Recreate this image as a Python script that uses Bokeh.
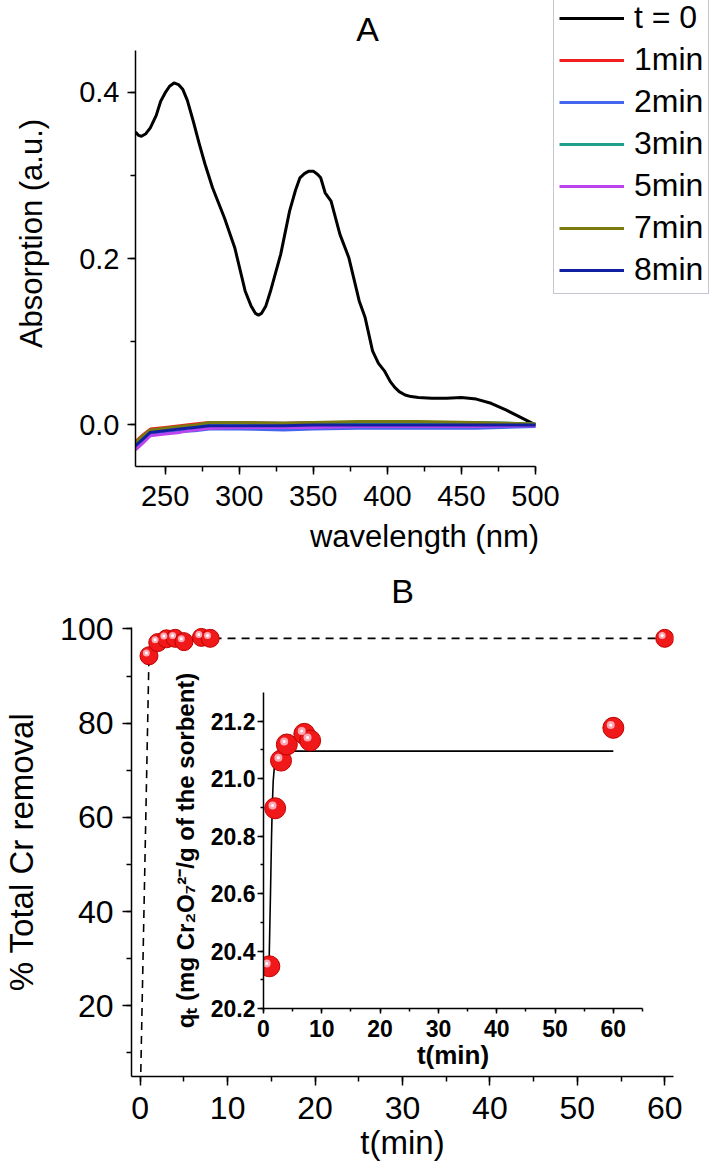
from bokeh.plotting import figure
from bokeh.models import (Legend, LegendItem, SingleIntervalTicker, Range1d,
                          PrintfTickFormatter, ColumnDataSource, Label)
from bokeh.transform import dodge
from bokeh.embed import file_html
from bokeh.resources import INLINE

FONT = "Liberation Sans"

# ---------------- Panel A data ----------------
wl_t0 = [230, 232, 234, 237, 240, 244, 247, 250, 253, 256, 259, 262, 265, 269, 273, 277,
         282, 290, 297, 304, 308, 311, 313, 315, 318, 321, 328, 334, 338, 341, 344, 347,
         350, 353, 355, 358, 362, 368, 374, 381, 385, 390, 394, 398, 402, 405, 408, 412,
         416, 421, 430, 440, 450, 460, 470, 480, 490, 500]
abs_t0 = [0.352, 0.348, 0.347, 0.350, 0.357, 0.372, 0.389, 0.399, 0.407, 0.411, 0.409,
          0.403, 0.390, 0.365, 0.338, 0.313, 0.285, 0.249, 0.213, 0.161, 0.143, 0.134,
          0.132, 0.134, 0.143, 0.160, 0.205, 0.257, 0.282, 0.297, 0.302, 0.305, 0.305,
          0.301, 0.297, 0.279, 0.269, 0.229, 0.201, 0.149, 0.129, 0.089, 0.074, 0.065,
          0.052, 0.045, 0.040, 0.036, 0.034, 0.033, 0.032, 0.032, 0.033, 0.031, 0.026,
          0.018, 0.009, 0.000]

wl_grid = [230, 235, 240, 250, 260, 270, 280, 300, 330, 350, 380, 420, 460, 500]
abs_1min = [-0.020, -0.012, -0.005, -0.003, -0.001, 0.001, 0.003, 0.003, 0.002, 0.003, 0.003, 0.002, 0.002, 0.000]
abs_2min = [-0.028, -0.020, -0.012, -0.010, -0.008, -0.007, -0.005, -0.005, -0.006, -0.005, -0.004, -0.004, -0.004, -0.002]
abs_3min = [-0.022, -0.014, -0.007, -0.005, -0.003, -0.001, 0.002, 0.002, 0.002, 0.002, 0.003, 0.003, 0.003, 0.001]
abs_5min = [-0.030, -0.022, -0.013, -0.011, -0.009, -0.006, -0.004, -0.003, -0.003, -0.003, -0.002, -0.002, -0.002, -0.001]
abs_7min = [-0.021, -0.013, -0.006, -0.004, -0.002, 0.000, 0.003, 0.003, 0.002, 0.003, 0.004, 0.004, 0.003, 0.001]
abs_8min = [-0.025, -0.017, -0.009, -0.007, -0.005, -0.003, -0.001, -0.001, -0.001, 0.000, 0.000, 0.000, 0.000, 0.000]

series_names = ["t = 0", "1min", "2min", "3min", "5min", "7min", "8min"]
series_colors = ["#000000", "#f02020", "#4466ee", "#20a08a", "#bb44ee", "#7a7a10", "#1020a0"]

# ---------------- Panel B data ----------------
t_main = [1, 2, 3, 4, 5, 7, 8, 60]
removal_main = [94.3, 97.1, 97.9, 98.0, 97.3, 98.2, 98.0, 98.0]
t_line = [0] + t_main
removal_line = [0] + removal_main

t_inset = [1, 2, 3, 4, 7, 8, 60]
q_inset = [20.347, 20.897, 21.063, 21.119, 21.156, 21.133, 21.177]
t_fit = [0.95, 1.0, 1.2, 1.38, 1.5, 1.66, 1.9, 2.2, 2.9, 4.0, 60]
q_fit = [20.33, 20.40, 20.60, 20.80, 20.90, 20.99, 21.05, 21.08, 21.094, 21.096, 21.096]


def style_axis(ax, tick_px, label_px, bold=False, tick_out=8, minor_out=5,
               tick_standoff=6, label_standoff=4, lw=1.5):
    ax.axis_line_color = "black"
    ax.axis_line_width = lw
    ax.major_tick_line_color = "black"
    ax.minor_tick_line_color = "black"
    ax.major_tick_line_width = lw
    ax.minor_tick_line_width = lw
    ax.major_tick_in = 0
    ax.major_tick_out = tick_out
    ax.minor_tick_in = 0
    ax.minor_tick_out = minor_out
    ax.major_label_text_font = FONT
    ax.major_label_text_font_size = f"{tick_px}px"
    ax.major_label_text_color = "black"
    ax.major_label_text_font_style = "bold" if bold else "normal"
    ax.major_label_standoff = tick_standoff
    ax.axis_label_text_font = FONT
    ax.axis_label_text_font_size = f"{label_px}px"
    ax.axis_label_text_color = "black"
    ax.axis_label_text_font_style = "bold" if bold else "normal"
    ax.axis_label_standoff = label_standoff


def place(p, left, top):
    p.styles = {"position": "absolute", "left": f"{left}px", "top": f"{top}px"}


# ---------------- Figure A ----------------
# frame: 578 px wide (axis drawn on first 400 px), 466 px tall (axis on lowest 416 px)
xA0, xA1 = 230, 500
yA0, yA1 = -0.05, 0.45
xA_end = xA0 + (xA1 - xA0) * 578 / 400
yA_end = yA0 + (yA1 - yA0) * 466 / 416
pA = figure(width=718, height=568, x_range=Range1d(xA0, xA_end), y_range=Range1d(yA0, yA_end),
            output_backend="svg", toolbar_location=None,
            min_border_left=135, min_border_right=5, min_border_top=0, min_border_bottom=102)
pA.outline_line_color = None
pA.xgrid.visible = False
pA.ygrid.visible = False
pA.xaxis.bounds = (xA0, xA1)
pA.yaxis.bounds = (yA0, yA1)
pA.xaxis.ticker = SingleIntervalTicker(interval=50, num_minor_ticks=2)
pA.yaxis.ticker = SingleIntervalTicker(interval=0.2, num_minor_ticks=2)
pA.yaxis.formatter = PrintfTickFormatter(format="%.1f")
pA.xaxis.axis_label = "wavelength (nm)"
pA.yaxis.axis_label = "Absorption (a.u.)"
style_axis(pA.xaxis[0], 29, 31, tick_standoff=11, label_standoff=10)
style_axis(pA.yaxis[0], 29, 31, tick_standoff=8, label_standoff=27)
pA.add_layout(Label(x=232, y=438, x_units="screen", y_units="screen", text="A",
                    text_align="center", text_baseline="middle", text_font=FONT,
                    text_font_size="34px", text_color="black"))

series_y = [abs_1min, abs_2min, abs_3min, abs_5min, abs_7min, abs_8min]
renderers = []
r0 = pA.line(wl_t0, abs_t0, line_color=series_colors[0], line_width=3, line_join="round")
renderers.append(r0)
for ys, col in zip(series_y, series_colors[1:]):
    r = pA.line(wl_grid, ys, line_color=col, line_width=3, line_join="round")
    renderers.append(r)

legend = Legend(items=[LegendItem(label=n, renderers=[r]) for n, r in zip(series_names, renderers)],
                location=(418, 172))
legend.label_text_font = FONT
legend.label_text_font_size = "32px"
legend.label_text_color = "black"
legend.glyph_width = 65
legend.glyph_height = 36
legend.label_height = 36
legend.label_standoff = 10
legend.spacing = 5
legend.padding = 5
legend.margin = 0
legend.border_line_color = "#8e8ea8"
legend.border_line_width = 1.5
legend.background_fill_color = "white"
legend.background_fill_alpha = 1.0
pA.add_layout(legend)

# ---------------- Figure B ----------------
pB = figure(width=718, height=617, x_range=Range1d(-1, 61), y_range=Range1d(5, 100.3),
            output_backend="svg", toolbar_location=None,
            min_border_left=128, min_border_right=45, min_border_top=79, min_border_bottom=89)
pB.outline_line_color = None
pB.border_fill_alpha = 0
pB.xgrid.visible = False
pB.ygrid.visible = False
pB.title.text = "B"
pB.title.align = "center"
pB.title.offset = 2
pB.title.standoff = 36
pB.title.text_font = FONT
pB.title.text_font_size = "34px"
pB.title.text_font_style = "normal"
pB.title.text_color = "black"
pB.xaxis.ticker = SingleIntervalTicker(interval=10, num_minor_ticks=2)
pB.yaxis.ticker = SingleIntervalTicker(interval=20, num_minor_ticks=2)
pB.xaxis.axis_label = "t(min)"
pB.yaxis.axis_label = "% Total Cr removal"
style_axis(pB.xaxis[0], 32, 33, tick_out=9, tick_standoff=11, label_standoff=2)
style_axis(pB.yaxis[0], 32, 33, tick_out=9, tick_standoff=9, label_standoff=17)

srcB = ColumnDataSource(dict(t=t_main, r=removal_main))
pB.line(t_line, removal_line, line_color="black", line_width=1.6, line_dash="8 6")
pB.scatter("t", "r", source=srcB, size=18, fill_color="#f01818", line_color="#c00000", line_width=1)
pB.scatter(x=dodge("t", -0.3), y=dodge("r", 0.6), source=srcB, size=7,
           fill_color="#ffb6c4", line_color=None, fill_alpha=0.9)
pB.scatter(x=dodge("t", -0.3), y=dodge("r", 0.6), source=srcB, size=3,
           fill_color="white", line_color=None)

# ---------------- Inset ----------------
pI = figure(width=492, height=435, x_range=Range1d(0, 65), y_range=Range1d(20.2, 21.3),
            output_backend="svg", toolbar_location=None,
            min_border_left=103, min_border_right=10, min_border_top=52, min_border_bottom=67)
pI.outline_line_color = None
pI.background_fill_alpha = 0
pI.border_fill_alpha = 0
pI.xgrid.visible = False
pI.ygrid.visible = False
pI.xaxis.ticker = SingleIntervalTicker(interval=10, num_minor_ticks=2)
pI.yaxis.ticker = SingleIntervalTicker(interval=0.2, num_minor_ticks=2)
pI.yaxis.formatter = PrintfTickFormatter(format="%.1f")
pI.xaxis.axis_label = "t(min)"
pI.yaxis.axis_label = "qₜ (mg Cr₂O₇²⁻/g of the sorbent)"
style_axis(pI.xaxis[0], 23, 26, bold=True, tick_out=5, minor_out=3, tick_standoff=6, label_standoff=0)
style_axis(pI.yaxis[0], 23, 24, bold=True, tick_out=6, minor_out=3, tick_standoff=2, label_standoff=9)

srcI = ColumnDataSource(dict(t=t_inset, q=q_inset))
pI.line(t_fit, q_fit, line_color="black", line_width=1.6)
pI.scatter("t", "q", source=srcI, size=21, fill_color="#f01818", line_color="#c00000", line_width=1)
pI.scatter(x=dodge("t", -0.45), y=dodge("q", 0.01), source=srcI, size=8,
           fill_color="#ffb6c4", line_color=None, fill_alpha=0.9)
pI.scatter(x=dodge("t", -0.45), y=dodge("q", 0.01), source=srcI, size=3,
           fill_color="white", line_color=None)

place(pA, 0, 0)
place(pB, 0, 548)
place(pI, 160, 640)

open("out.html", "w").write(file_html([pA, pB, pI], INLINE))
